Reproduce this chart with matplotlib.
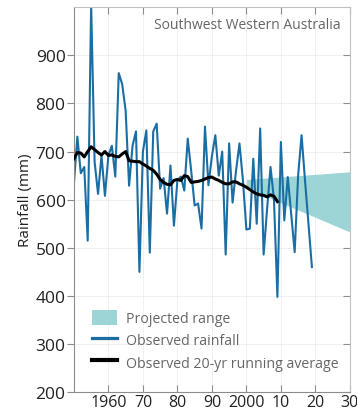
import matplotlib.pyplot as plt

# 1. Datos: lluvia anual observada (mm)
years = list(range(1950, 2020))
rainfall = [633, 731, 655, 668, 515, 1005, 679, 612, 692, 608,
            692, 712, 648, 863, 840, 785, 629, 712, 742, 450,
            700, 744, 490, 742, 758, 623, 645, 571, 671, 546,
            640, 648, 619, 727, 660, 588, 592, 540, 752, 630,
            690, 734, 650, 700, 486, 717, 594, 660, 717, 640,
            538, 540, 685, 550, 748, 486, 580, 668, 600, 398,
            720, 557, 647, 570, 491, 650, 734, 640, 550, 460]

# Media movil de 20 anios
avg_years = list(range(1950, 2010))
running_avg = [685, 698, 697, 689, 700, 710, 704, 698, 693, 700,
               692, 693, 690, 689, 695, 700, 681, 680, 679, 679,
               674, 670, 665, 661, 653, 642, 636, 632, 631, 640,
               642, 640, 650, 648, 636, 637, 638, 640, 643, 646,
               647, 643, 640, 636, 633, 633, 637, 637, 633, 630,
               626, 621, 616, 612, 610, 609, 606, 610, 607, 596]

# Rango proyectado
proj_years = [2000, 2030]
proj_upper = [642, 658]
proj_lower = [624, 533]

xticks = [1960, 1970, 1980, 1990, 2000, 2010, 2020, 2030]
xtick_labels = ["1960", "70", "80", "90", "2000", "10", "20", "30"]
yticks = [200, 300, 400, 500, 600, 700, 800, 900]

plt.rcParams['font.family'] = ['Open Sans', 'DejaVu Sans']

# 2. Figura
fig = plt.figure(figsize=(3.57, 4.10), dpi=100)
ax = fig.add_axes([0.207, 0.041, 0.773, 0.939])

ax.fill_between(proj_years, proj_lower, proj_upper, color="#9dd5d7",
                lw=0, zorder=1, label="Projected range")
ax.plot(years, rainfall, color="#1a6ea3", lw=1.5, zorder=2,
        label="Observed rainfall")
ax.plot(avg_years, running_avg, color="black", lw=2.2, zorder=3,
        label="Observed 20-yr running average")

ax.set_xlim(1950, 2030)
ax.set_ylim(200, 1000)
ax.set_xticks(xticks)
ax.set_xticklabels(xtick_labels)
ax.set_yticks(yticks)

ax.grid(True, color="#eeeeee", lw=0.6)
ax.set_axisbelow(True)

for side in ["left", "bottom"]:
    ax.spines[side].set_color("#8c8c8c")
for side in ["right", "top"]:
    ax.spines[side].set_color("#c0c0c0")

ax.tick_params(axis="y", which="both", direction="out", length=5,
               color="#8c8c8c", labelsize=12.5, labelcolor="#222222", pad=1,
               right=True)
ax.tick_params(axis="x", direction="in", length=5, color="#8c8c8c",
               labelsize=11.5, labelcolor="#222222", pad=1, top=True)
for t in ax.yaxis.get_majorticklines()[1::2]:
    t.set_marker(0)  # ticks del lado derecho hacia adentro

ax.set_ylabel("Rainfall (mm)", fontsize=11, color="#222222", labelpad=2)

ax.text(0.965, 0.955, "Southwest Western Australia", transform=ax.transAxes,
        ha="right", va="center", fontsize=10, color="#666666")

leg = ax.legend(loc="lower left", bbox_to_anchor=(0.065, 0.056), frameon=False,
                fontsize=10.2, handlelength=1.8, handleheight=1.3,
                handletextpad=0.6, labelspacing=0.4, borderpad=0,
                borderaxespad=0)
for text in leg.get_texts():
    text.set_color("#666666")
for line in leg.get_lines():
    line.set_linewidth(line.get_linewidth() + 0.8)

fig.savefig("out.png", dpi=100)
